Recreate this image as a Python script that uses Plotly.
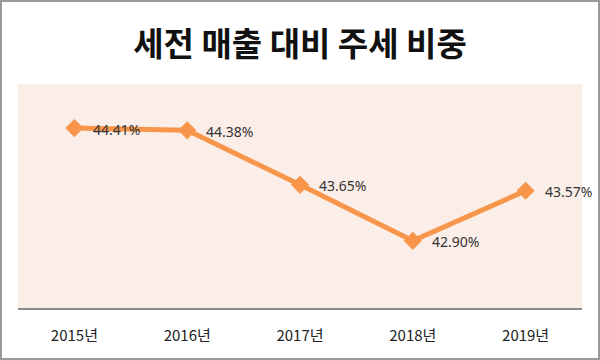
import plotly.graph_objects as go

years = ["2015년", "2016년", "2017년", "2018년", "2019년"]
ratio = [44.41, 44.38, 43.65, 42.90, 43.57]
labels = ["44.41%", "44.38%", "43.65%", "42.90%", "43.57%"]

W, H = 600, 360
ml, mr, mt, mb = 18, 18, 84, 52
pw, ph = W - ml - mr, H - mt - mb

fig = go.Figure()
fig.add_trace(go.Scatter(
    x=years, y=ratio, mode="lines+markers",
    line=dict(color="#F7964A", width=5),
    marker=dict(symbol="diamond", size=14, color="#F7964A"),
    hoverinfo="skip", showlegend=False,
))
for x, y, t in zip(years, ratio, labels):
    fig.add_annotation(x=x, y=y, text=t, showarrow=False, xanchor="left",
                       xshift=17, yshift=-1,
                       font=dict(family="Noto Sans, sans-serif", size=14, color="#333333"))

fig.add_shape(type="rect", xref="paper", yref="paper",
              x0=-(ml - 1) / pw, x1=1 + (mr - 1) / pw,
              y0=-(mb - 1) / ph, y1=1 + (mt - 1) / ph,
              line=dict(color="#9a9a9a", width=2), fillcolor="rgba(0,0,0,0)", layer="above")

fig.update_layout(
    width=W, height=H,
    margin=dict(l=ml, r=mr, t=mt, b=mb),
    paper_bgcolor="white", plot_bgcolor="#FBEEE8",
    title=dict(text="<b>세전 매출 대비 주세 비중</b>", x=0.5, xanchor="center",
               y=1 - 44 / H, yanchor="middle",
               font=dict(family="Noto Sans CJK KR", size=33, color="#111111")),
    xaxis=dict(range=[-0.5, 4.5], showgrid=False, zeroline=False, showline=True,
               linecolor="#8c8c8c", linewidth=2, ticks="", fixedrange=True,
               tickfont=dict(family="Noto Sans CJK KR", size=15, color="#222222"),
               ticklabelstandoff=13),
    yaxis=dict(range=[42, 45], visible=False, fixedrange=True),
)

fig.write_html("out.html", post_script="document.body.style.margin='0';",
               config={"displayModeBar": False})
